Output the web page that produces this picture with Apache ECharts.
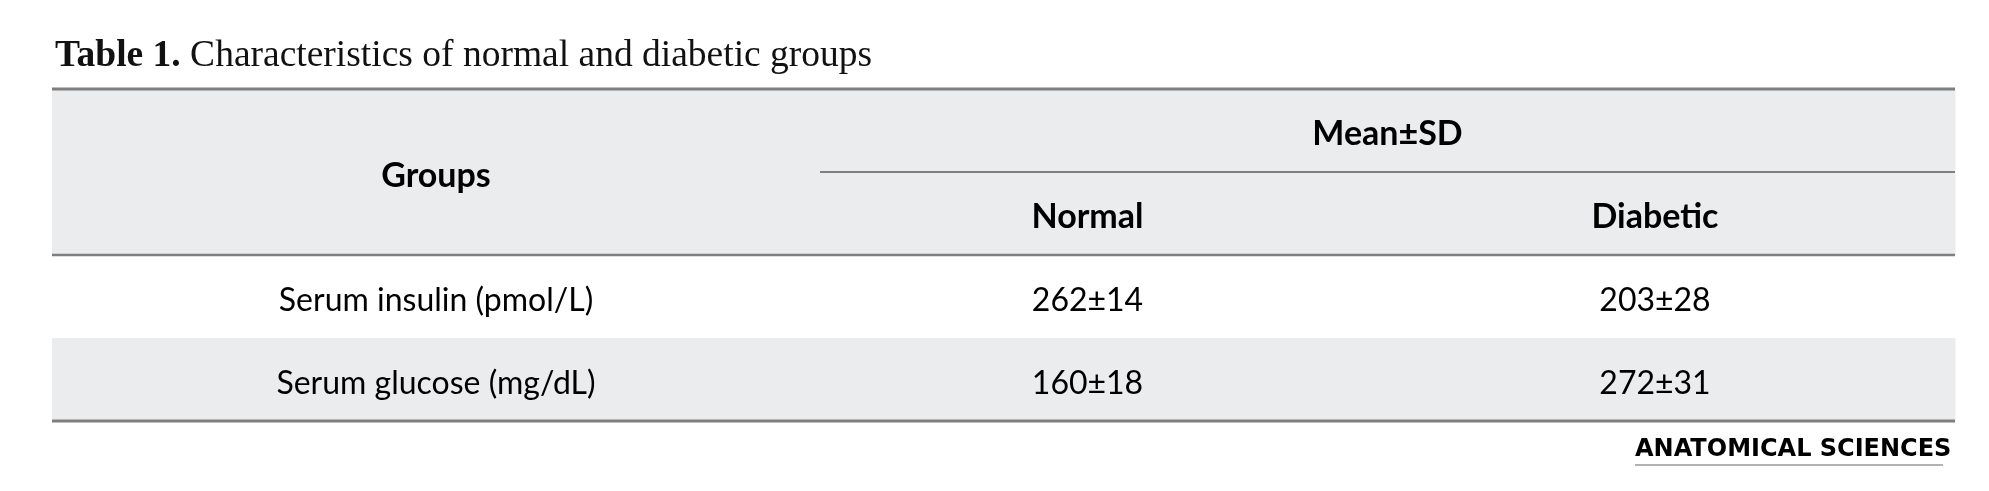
<!DOCTYPE html>
<html>
<head>
<meta charset="utf-8">
<script src="https://cdn.jsdelivr.net/npm/echarts@6/dist/echarts.min.js"></script>
<style>
html,body{margin:0;padding:0;background:#fff;}
#chart{width:1989px;height:491px;}
</style>
</head>
<body>
<div id="chart"></div>
<script>
// ---- data ----
const tableLabel = 'Table 1.';
const tableCaption = 'Characteristics of normal and diabetic groups';
const headerFirst = 'Groups';
const headerGroup = 'Mean±SD';
const subHeaders = ['Normal', 'Diabetic'];
const groups = ['Serum insulin (pmol/L)', 'Serum glucose (mg/dL)'];
const normalValues = ['262±14', '160±18'];
const diabeticValues = ['203±28', '272±31'];
const brand = 'ANATOMICAL SCIENCES';

// ---- layout (axis units) ----
const colEdges = [0, 768, 1303, 1903];
const GRAY = '#ebecee';
const RULE = '#7f7f7f';
const BODY_FONT = 'Lato, "Open Sans", sans-serif';

// build cells: [c0, c1, r0, r1]
const cells = [];
cells.push({ value: [0, 1, 0, 2], text: headerFirst, bold: true, fill: GRAY });
cells.push({ value: [1, 3, 0, 1], text: headerGroup, bold: true, fill: GRAY });
subHeaders.forEach((h, i) => cells.push({ value: [1 + i, 2 + i, 1, 2], text: h, bold: true, fill: GRAY }));
groups.forEach((g, i) => {
  const fill = i % 2 === 1 ? GRAY : '#ffffff';
  const r = 2 + i;
  cells.push({ value: [0, 1, r, r + 1], text: g, bold: false, fill });
  cells.push({ value: [1, 2, r, r + 1], text: normalValues[i], bold: false, fill });
  cells.push({ value: [2, 3, r, r + 1], text: diabeticValues[i], bold: false, fill });
});

// rules: [c0, c1, row], w = line width
const rules = [
  { value: [0, 3, 0], w: 3 },
  { value: [1, 3, 1], w: 2 },
  { value: [0, 3, 2], w: 2.5 },
  { value: [0, 3, 2 + groups.length], w: 3 }
];

const chart = echarts.init(document.getElementById('chart'), null, { renderer: 'canvas' });

const option = {
  backgroundColor: '#ffffff',
  animation: false,
  title: {
    left: 55,
    top: 37,
    padding: 0,
    text: '{b|' + tableLabel + ' }{n|' + tableCaption + '}',
    textStyle: {
      rich: {
        b: { fontFamily: '"Liberation Serif", serif', fontWeight: 'bold', fontSize: 37.5, color: '#111' },
        n: { fontFamily: '"Liberation Serif", serif', fontWeight: 'normal', fontSize: 37.5, color: '#111' }
      }
    }
  },
  grid: { left: 52, right: 34, top: 89, bottom: 70 },
  xAxis: { type: 'value', min: colEdges[0], max: colEdges[colEdges.length - 1], show: false },
  yAxis: { type: 'value', min: 0, max: 2 + groups.length, inverse: true, show: false },
  series: [
    {
      type: 'custom',
      data: cells,
      clip: false,
      renderItem: function (params, api) {
        const d = cells[params.dataIndex];
        const v = d.value;
        const p0 = api.coord([colEdges[v[0]], v[2]]);
        const p1 = api.coord([colEdges[v[1]], v[3]]);
        return {
          type: 'group',
          children: [
            { type: 'rect', shape: { x: p0[0], y: p0[1], width: p1[0] - p0[0] + 0.5, height: p1[1] - p0[1] + 0.5 }, style: { fill: d.fill } },
            {
              type: 'text',
              style: {
                x: (p0[0] + p1[0]) / 2,
                y: (p0[1] + p1[1]) / 2 + 4,
                text: d.text,
                fill: '#000',
                fontFamily: BODY_FONT,
                fontWeight: d.bold ? 'bold' : 'normal',
                fontSize: d.bold ? 34 : 32,
                align: 'center',
                verticalAlign: 'middle'
              }
            }
          ]
        };
      }
    },
    {
      type: 'custom',
      data: rules,
      clip: false,
      z: 5,
      renderItem: function (params, api) {
        const d = rules[params.dataIndex];
        const v = d.value;
        const p0 = api.coord([colEdges[v[0]], v[2]]);
        const p1 = api.coord([colEdges[v[1]], v[2]]);
        return { type: 'line', shape: { x1: p0[0], y1: p0[1], x2: p1[0], y2: p1[1] }, style: { stroke: RULE, lineWidth: d.w } };
      }
    }
  ],
  graphic: [
    { type: 'text', left: 1635, top: 438, style: { text: brand, font: 'bold 24px "DejaVu Sans"', fill: '#000' } },
    { type: 'line', shape: { x1: 1635, y1: 465, x2: 1943, y2: 465 }, style: { stroke: '#999', lineWidth: 1.5 } }
  ]
};
chart.setOption(option);
</script>
</body>
</html>
